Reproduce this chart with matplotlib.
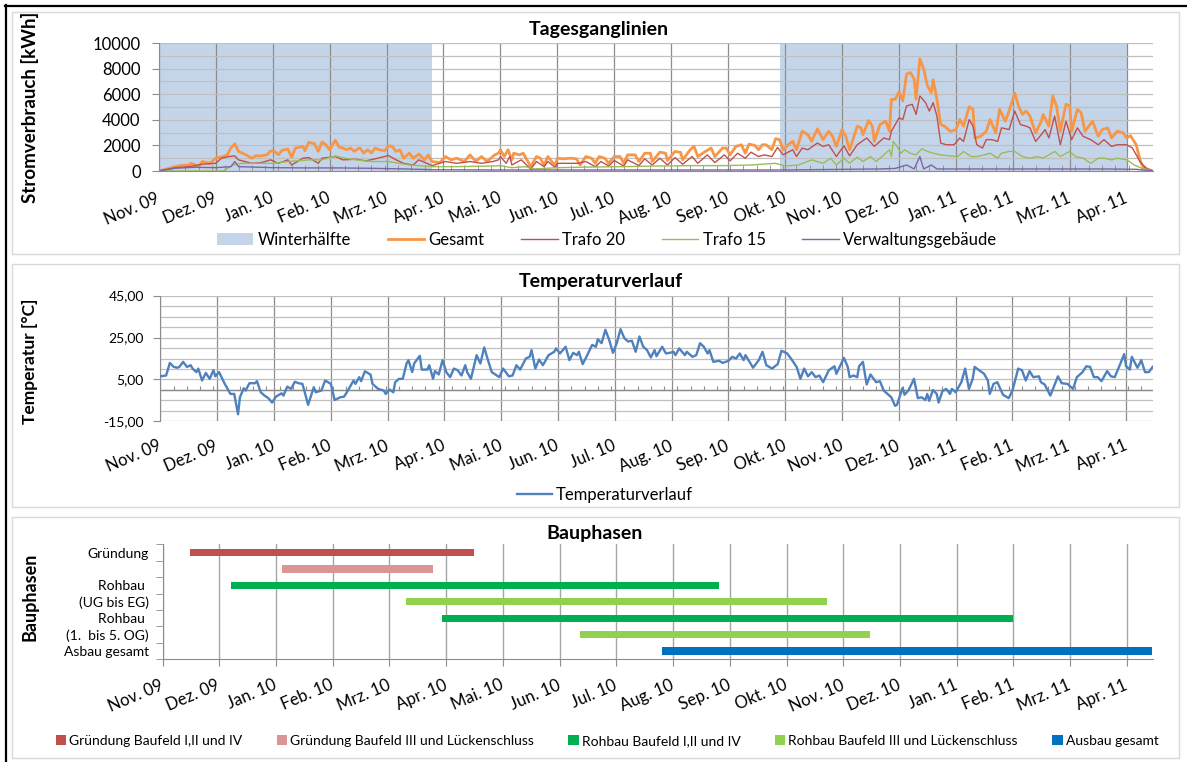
import matplotlib
matplotlib.use("Agg")
import matplotlib.pyplot as plt
from matplotlib.patches import Rectangle
from matplotlib.lines import Line2D
from matplotlib.ticker import MultipleLocator, FixedLocator
import numpy as np

plt.rcParams['font.family'] = ['Lato', 'DejaVu Sans']

W, H = 1187, 762

# x axis: day index, 0 = 1 Nov 2009, one label every 30 days
month_labels = ["Nov. 09", "Dez. 09", "Jan. 10", "Feb. 10", "Mrz. 10", "Apr. 10",
                "Mai. 10", "Jun. 10", "Jul. 10", "Aug. 10", "Sep. 10", "Okt. 10",
                "Nov. 10", "Dez. 10", "Jan. 11", "Feb. 11", "Mrz. 11", "Apr. 11"]
month_days = [0, 30, 60, 90, 120, 150, 180, 210, 240, 270, 300, 330,
              360, 390, 420, 450, 480, 510]
last_day = 524

# Tagesganglinien (kWh per day)
winter_start = [0, 327.5]
winter_end = [144, 510]

gesamt_day = [0, 11, 16, 17, 21, 23, 27, 29, 30, 34, 36, 38, 40, 42, 46, 49, 51, 54, 57, 59,
              61, 63, 65, 68, 70, 72, 76, 77, 79, 82, 84, 86, 88, 90, 93, 95, 97, 99, 101, 103,
              105, 106, 108, 110, 112, 114, 116, 119, 121, 123, 125, 127, 129, 132, 134, 137, 140, 142, 144, 148,
              151, 154, 157, 161, 164, 167, 170, 173, 177, 179, 180, 182, 184, 186, 187, 190, 192, 194, 196, 199,
              201, 203, 205, 207, 209, 210, 213, 217, 220, 222, 225, 228, 230, 232, 235, 237, 240, 243, 245, 247,
              251, 253, 256, 259, 260, 264, 267, 268, 272, 275, 276, 280, 282, 284, 288, 291, 293, 297, 299, 301,
              304, 307, 309, 311, 314, 316, 318, 320, 323, 325, 327, 329, 332, 334, 336, 339, 342, 344, 347, 350,
              353, 355, 357, 360, 362, 364, 368, 370, 371, 374, 376, 377, 380, 383, 385, 386, 388, 390, 392, 394,
              396, 398, 399, 401, 403, 405, 407, 408, 410, 412, 414, 417, 420, 422, 424, 427, 429, 430, 433, 436,
              438, 441, 443, 446, 448, 451, 453, 455, 457, 459, 462, 465, 466, 469, 471, 473, 475, 478, 480, 481,
              484, 486, 488, 492, 495, 497, 500, 502, 505, 508, 510, 512, 515, 517, 518, 521, 524]
gesamt_kwh = [0, 420, 470, 600, 370, 740, 600, 870, 1000, 1130, 1260, 1790, 2130, 1530, 1260, 1000, 1180, 1180, 1260, 1580,
              1530, 1260, 1630, 1710, 1080, 1790, 1920, 1580, 2240, 2130, 1530, 2260, 2050, 1660, 2400, 1870, 1790, 1660, 1790, 1530,
              1740, 1790, 1400, 1660, 1400, 1790, 1660, 1580, 1970, 1920, 1530, 1660, 1000, 1400, 1000, 1320, 870, 1260, 740, 660,
              1130, 870, 1000, 740, 1260, 740, 1130, 740, 1260, 1390, 1660, 1130, 1660, 870, 1390, 1260, 1390, 870, 340, 1130,
              1000, 470, 1130, 740, 470, 1000, 950, 1000, 950, 470, 1130, 1000, 600, 1130, 1000, 600, 1130, 1130, 600, 1260,
              1260, 740, 1390, 1390, 740, 1470, 1390, 820, 1530, 1450, 870, 1660, 1920, 1130, 1530, 1790, 1130, 1790, 1790, 1260,
              1920, 2050, 1390, 2100, 2000, 1660, 2050, 2050, 1660, 2530, 2450, 1660, 2100, 2320, 1660, 3100, 2840, 2320, 3290, 2450,
              3100, 2710, 1920, 3230, 2710, 1660, 3500, 3370, 2840, 3950, 3500, 2310, 3630, 3890, 3100, 5600, 5600, 6180, 5470, 7570,
              7700, 7180, 5600, 8760, 7970, 6650, 6130, 7130, 5600, 3630, 3500, 3100, 3230, 4020, 3500, 5020, 4810, 2580, 2710, 3100,
              4020, 2970, 4810, 3890, 4680, 6080, 5080, 4420, 4680, 4290, 2970, 3890, 4420, 3500, 5860, 5080, 3100, 5210, 5080, 3100,
              4810, 4550, 3100, 3890, 2710, 3230, 3370, 2580, 3100, 3000, 2580, 2760, 2050, 870, 470, 130, 0]

trafo20_day = [0, 9, 16, 23, 30, 33, 37, 40, 42, 49, 54, 59, 63, 68, 70, 76, 79, 84, 86, 93,
               97, 104, 109, 114, 121, 125, 129, 134, 137, 144, 151, 157, 164, 170, 176, 179, 180, 183, 185, 186,
               191, 196, 199, 203, 205, 209, 210, 221, 225, 230, 233, 237, 240, 245, 247, 253, 256, 260, 264, 268,
               272, 276, 281, 284, 289, 293, 298, 301, 305, 309, 312, 316, 319, 323, 326, 329, 334, 336, 339, 342,
               347, 350, 353, 357, 361, 364, 368, 373, 377, 382, 385, 386, 390, 392, 394, 397, 399, 401, 404, 406,
               408, 410, 412, 415, 419, 422, 424, 427, 429, 431, 434, 436, 439, 442, 444, 448, 451, 454, 457, 459,
               462, 465, 467, 469, 472, 475, 478, 481, 484, 487, 491, 495, 498, 502, 505, 510, 513, 517, 520, 524]
trafo20_kwh = [0, 260, 340, 530, 600, 1000, 1130, 1180, 870, 600, 660, 870, 600, 870, 470, 1000, 1050, 600, 1000, 1130,
               870, 920, 790, 950, 1210, 870, 600, 470, 870, 420, 740, 600, 740, 600, 740, 870, 1130, 600, 1130, 470,
               870, 160, 740, 340, 740, 260, 600, 600, 740, 340, 740, 390, 820, 390, 870, 420, 950, 470, 1000, 470,
               1050, 530, 1130, 600, 1260, 660, 1260, 790, 1390, 1000, 1470, 1130, 1260, 1130, 1840, 1260, 1660, 1130, 1790, 1660,
               2180, 1920, 2050, 1130, 1970, 1180, 2050, 2580, 1920, 2580, 2450, 3100, 4150, 4020, 5080, 5210, 4420, 5860, 5340, 4680,
               5340, 4290, 2180, 2050, 2050, 2580, 2310, 4020, 3500, 2050, 1790, 2450, 2450, 2310, 3370, 3240, 4680, 3630, 3500, 3370,
               2310, 2840, 3240, 2580, 4290, 2050, 3890, 2450, 3370, 2710, 2450, 2050, 2450, 1920, 2050, 2050, 1790, 740, 210, 0]

trafo15_day = [0, 34, 39, 44, 51, 60, 68, 79, 86, 93, 98, 104, 112, 121, 132, 144, 157, 176, 180, 186,
               193, 198, 210, 228, 245, 263, 281, 298, 312, 325, 330, 337, 344, 350, 354, 357, 361, 364, 368, 371,
               375, 378, 382, 385, 386, 387, 389, 391, 393, 396, 399, 402, 405, 408, 412, 417, 421, 424, 428, 431,
               435, 438, 442, 444, 448, 451, 455, 459, 463, 466, 472, 475, 480, 483, 487, 491, 495, 498, 502, 505,
               510, 514, 518, 524]
trafo15_kwh = [0, 0, 470, 600, 600, 600, 740, 870, 870, 1180, 1000, 870, 740, 740, 470, 340, 340, 390, 420, 260,
               340, 160, 260, 310, 340, 390, 420, 420, 470, 600, 390, 470, 870, 600, 1000, 470, 1000, 600, 1080, 740,
               1130, 740, 1260, 1660, 1130, 2310, 1920, 1390, 1660, 1390, 1260, 1740, 1530, 1390, 1260, 1180, 1130, 1530, 1130, 1130,
               1260, 1390, 1000, 1390, 1530, 1530, 1130, 1000, 1130, 1000, 1530, 1130, 1530, 1130, 1000, 600, 1000, 1000, 870, 1000,
               870, 470, 210, 0]

verw_day = [0, 8, 19, 30, 38, 40, 42, 60, 77, 95, 112, 130, 144, 176, 250, 330, 360, 380, 388, 394,
            398, 401, 403, 407, 410, 450, 500, 515, 524]
verw_kwh = [0, 210, 290, 260, 340, 740, 340, 260, 240, 240, 210, 160, 100, 80, 80, 80, 130, 160, 200, 470,
            160, 1130, 160, 470, 160, 160, 160, 130, 0]

# Temperaturverlauf (deg C)
temp_day = [0, 3, 5, 7, 9, 10, 12, 14, 16, 17, 19, 20, 22, 24, 26, 28, 29, 31, 34, 37,
            39, 41, 42, 44, 45, 47, 50, 51, 53, 55, 57, 59, 61, 64, 65, 67, 69, 71, 73, 75,
            76, 78, 81, 82, 85, 87, 90, 92, 95, 97, 99, 102, 103, 105, 106, 108, 111, 112, 115, 118,
            119, 121, 123, 124, 126, 128, 130, 131, 133, 134, 137, 138, 141, 142, 144, 145, 147, 149, 151, 153,
            155, 157, 159, 161, 162, 164, 167, 169, 171, 173, 175, 179, 181, 184, 186, 188, 190, 193, 195, 196,
            198, 200, 202, 205, 208, 209, 211, 214, 216, 218, 220, 221, 223, 225, 228, 230, 231, 233, 235, 237,
            239, 241, 243, 245, 247, 249, 251, 253, 255, 257, 259, 261, 262, 265, 267, 269, 271, 272, 274, 277,
            278, 281, 283, 285, 287, 289, 290, 292, 295, 297, 300, 302, 304, 306, 308, 309, 313, 316, 318, 320,
            323, 326, 328, 331, 333, 336, 338, 340, 342, 344, 346, 348, 350, 353, 356, 357, 361, 363, 364, 366,
            368, 369, 371, 373, 375, 378, 380, 382, 385, 386, 388, 389, 392, 393, 395, 398, 400, 402, 404, 405,
            406, 408, 410, 411, 413, 415, 417, 418, 420, 423, 425, 427, 429, 430, 433, 435, 437, 438, 440, 442,
            445, 448, 450, 453, 455, 457, 459, 461, 464, 465, 467, 470, 474, 476, 479, 482, 484, 487, 489, 491,
            493, 495, 497, 500, 502, 504, 507, 509, 510, 512, 513, 516, 517, 518, 520, 522, 524]
temp_c = [6.5, 6.9, 12.9, 11.0, 10.6, 11.0, 13.4, 11.0, 11.8, 10.2, 8.5, 10.2, 4.5, 8.1, 5.3, 9.4, 6.5, 8.5, 2.9, -1.9,
          -1.9, -11.6, -3.5, 0.8, -0.3, 3.2, 3.2, 4.2, -1.1, -2.7, -3.9, -6.0, -3.2, -1.6, -2.7, 1.6, 0.5, 3.9, 3.2, 2.9,
          -0.3, -7.1, 1.3, -1.1, -0.3, 4.5, 2.9, -4.8, -3.5, -3.2, -0.3, 4.5, 2.9, 6.1, 4.2, 8.9, 7.3, 2.9, 0.5, -0.3,
          -1.9, 0.2, -1.1, 3.7, 5.3, 5.3, 12.6, 14.2, 8.5, 12.6, 16.3, 9.7, 9.7, 11.8, 5.3, 9.0, 7.4, 14.2, 8.5, 6.1,
          10.2, 9.4, 6.9, 11.8, 8.5, 5.3, 16.6, 12.6, 20.3, 14.2, 8.5, 6.1, 10.2, 6.5, 6.9, 11.8, 9.7, 15.0, 15.8, 19.0,
          10.2, 14.5, 11.8, 16.6, 18.2, 19.8, 17.4, 20.6, 14.2, 17.7, 16.6, 18.2, 12.3, 15.8, 21.5, 20.6, 24.2, 22.3, 28.7, 23.9,
          17.7, 22.3, 29.0, 24.7, 23.1, 23.5, 18.2, 25.5, 20.6, 19.0, 15.5, 19.0, 16.1, 20.6, 17.4, 17.7, 18.2, 16.6, 19.8, 16.6,
          18.2, 15.8, 16.6, 22.3, 20.6, 17.4, 19.0, 13.4, 13.9, 12.9, 13.9, 15.8, 15.0, 17.4, 14.2, 16.6, 10.6, 14.2, 18.2, 11.8,
          10.2, 12.3, 18.7, 17.4, 15.0, 11.0, 5.3, 10.2, 6.5, 8.5, 6.1, 6.9, 3.7, 9.4, 11.3, 7.7, 15.3, 11.0, 6.1, 6.9,
          6.1, 11.3, 13.4, 2.6, 7.4, 3.7, 4.2, -0.3, -2.7, -3.5, -7.6, -7.1, 1.0, -2.3, -0.3, 5.3, -3.9, -3.5, -4.8, -1.9,
          -5.2, 0.0, -1.9, -6.0, -0.6, 0.5, -1.9, 0.5, -1.1, 3.7, 10.2, 0.5, 5.3, 11.0, 9.0, 7.7, 4.5, -1.9, 2.9, 3.7,
          -2.3, -3.9, -0.3, 10.2, 9.4, 4.5, 9.0, 6.1, 6.5, 3.7, 2.6, -2.7, 6.5, 3.2, 2.9, 0.5, 6.1, 8.5, 11.3, 11.0,
          6.1, 6.1, 4.2, 9.0, 6.5, 6.1, 12.6, 17.1, 11.3, 9.7, 15.8, 10.6, 12.3, 14.2, 8.5, 8.5, 11.0]

# Bauphasen (start / end day)
phase_rows = ["Gründung", "", "Rohbau ", "(UG bis EG)", "Rohbau ", "(1.  bis 5. OG)", "Asbau gesamt"]
phase_start = [14.5, 63.1, 36.3, 128.6, 147.9, 220.7, 264.3]
phase_end = [164.9, 143.0, 294.4, 351.3, 449.6, 374.2, 523.5]
phase_series = [0, 1, 2, 3, 2, 3, 4]
series_names = ["Gründung Baufeld I,II und IV", "Gründung Baufeld III und Lückenschluss",
                "Rohbau Baufeld I,II und IV", "Rohbau Baufeld III und Lückenschluss", "Ausbau gesamt"]
series_colors = ["#C0504D", "#D99694", "#00B050", "#92D050", "#0070C0"]

GRID_H = "#BFBFBF"
GRID_V = "#8C8C8C"


def rect(left, top, right, bottom):
    return [left / W, 1 - bottom / H, (right - left) / W, (bottom - top) / H]


def fy(y):
    return 1 - y / H


fig = plt.figure(figsize=(W / 100, H / 100), dpi=100)

# panel frames and screenshot border
for top, bottom in [(12, 254), (264, 507), (517, 758)]:
    fig.patches.append(Rectangle((12 / W, fy(bottom)), (1179 - 12) / W, (bottom - top) / H,
                                 transform=fig.transFigure, fill=False, edgecolor="#D9D9D9", lw=1))
fig.add_artist(Line2D([5 / W, 1], [fy(5.5), fy(5.5)], color="black", lw=1.6, transform=fig.transFigure))
fig.add_artist(Line2D([6 / W, 6 / W], [0, fy(5)], color="black", lw=1.6, transform=fig.transFigure))


def month_axis(ax, pad):
    ax.set_xlim(0, last_day)
    ax.set_xticks(month_days)
    ax.set_xticklabels(month_labels, rotation=23, ha="right", va="center", rotation_mode="anchor")
    ax.tick_params(axis="x", which="major", length=0, pad=pad, labelsize=12)
    for s in ["top", "right"]:
        ax.spines[s].set_visible(False)


# ---- Tagesganglinien ----
ax1 = fig.add_axes(rect(158.8, 43, 1153.3, 171))
for i in range(len(winter_start)):
    ax1.axvspan(winter_start[i], winter_end[i], color="#C4D5EA", lw=0,
                label="Winterhälfte" if i == 0 else None)
ax1.plot(gesamt_day, gesamt_kwh, color="#F79646", lw=2.0, label="Gesamt")
ax1.plot(trafo20_day, trafo20_kwh, color="#C0504D", lw=1.0, label="Trafo 20")
ax1.plot(trafo15_day, trafo15_kwh, color="#9BBB59", lw=1.0, label="Trafo 15")
ax1.plot(verw_day, verw_kwh, color="#8064A2", lw=1.0, label="Verwaltungsgebäude")
ax1.set_ylim(0, 10000)
ax1.set_yticks(range(0, 10001, 2000))
ax1.yaxis.set_minor_locator(MultipleLocator(1000))
ax1.xaxis.set_minor_locator(MultipleLocator(7))
month_axis(ax1, 19)
ax1.tick_params(axis="y", which="major", length=5, color=GRID_V, pad=8, labelsize=12)
ax1.tick_params(axis="y", which="minor", length=0)
ax1.tick_params(axis="x", which="minor", direction="in", length=4, color=GRID_V)
ax1.set_axisbelow("line")
ax1.grid(axis="y", which="both", color=GRID_H, lw=0.9)
ax1.grid(axis="x", which="major", color=GRID_V, lw=0.9)
ax1.spines["left"].set_color(GRID_V)
ax1.spines["bottom"].set_color(GRID_V)
fig.text(599 / W, fy(29), "Tagesganglinien", ha="center", va="center", fontsize=14, fontweight="bold")
fig.text(30 / W, fy(107), "Stromverbrauch [kWh]", rotation=90, ha="center", va="center",
         fontsize=13.5, fontweight="bold")
fig.legend(*ax1.get_legend_handles_labels(), loc="center", bbox_to_anchor=(607 / W, fy(240)),
           ncol=5, frameon=False, fontsize=12, handlelength=2.2, handleheight=0.7,
           handletextpad=0.25, columnspacing=2.2, borderpad=0)

# ---- Temperaturverlauf ----
ax2 = fig.add_axes(rect(160.4, 295.6, 1152.6, 421.4))
ax2.plot(temp_day, temp_c, color="#4F81BD", lw=1.7, label="Temperaturverlauf", zorder=3)
ax2.set_ylim(-15, 45)
ax2.set_yticks([-15, 5, 25, 45])
ax2.set_yticklabels(["-15,00", "5,00", "25,00", "45,00"])
ax2.yaxis.set_minor_locator(MultipleLocator(5))
month_axis(ax2, 17)
ax2.tick_params(axis="y", which="major", length=5, color=GRID_V, pad=7, labelsize=10)
ax2.tick_params(axis="y", which="minor", length=0)
ax2.grid(axis="y", which="both", color=GRID_H, lw=0.9)
ax2.grid(axis="x", which="major", color=GRID_V, lw=0.9)
ax2.spines["bottom"].set_visible(False)
ax2.spines["left"].set_color(GRID_V)
ax2.axhline(0, color=GRID_V, lw=1.0, zorder=2)
ax2.vlines(np.arange(7, last_day, 7), 0, 1.8, color=GRID_V, lw=0.8, zorder=2)
fig.text(601 / W, fy(281), "Temperaturverlauf", ha="center", va="center", fontsize=14, fontweight="bold")
fig.text(30 / W, fy(361), "Temperatur [°C]", rotation=90, ha="center", va="center",
         fontsize=12.5, fontweight="bold")
fig.legend(*ax2.get_legend_handles_labels(), loc="center", bbox_to_anchor=(605 / W, fy(495)),
           frameon=False, fontsize=12, handlelength=2.1, handletextpad=0.25, borderpad=0)

# ---- Bauphasen ----
ax3 = fig.add_axes(rect(162.6, 544.3, 1153.3, 659.3))
seen = set()
for i in range(len(phase_rows)):
    s = phase_series[i]
    ax3.barh(i, phase_end[i] - phase_start[i], left=phase_start[i], height=0.44,
             color=series_colors[s], label=series_names[s] if s not in seen else None, zorder=3)
    seen.add(s)
ax3.set_ylim(6.5, -0.5)
ax3.set_yticks(range(len(phase_rows)))
ax3.set_yticklabels(phase_rows)
ax3.yaxis.set_minor_locator(FixedLocator(np.arange(-0.5, 7, 1)))
month_axis(ax3, 13)
ax3.tick_params(axis="x", which="major", length=5, direction="out", color=GRID_V)
ax3.tick_params(axis="y", which="major", length=0, pad=10, labelsize=10)
ax3.tick_params(axis="y", which="minor", length=5, direction="out", color=GRID_V)
ax3.grid(axis="x", which="major", color="#A6A6A6", lw=1.0)
ax3.spines["left"].set_color(GRID_V)
ax3.spines["bottom"].set_color(GRID_V)
fig.text(595 / W, fy(534), "Bauphasen", ha="center", va="center", fontsize=14, fontweight="bold")
fig.text(30 / W, fy(597), "Bauphasen", rotation=90, ha="center", va="center",
         fontsize=13, fontweight="bold")
h3, l3 = ax3.get_legend_handles_labels()
fig.legend(h3, l3, loc="center", bbox_to_anchor=(607 / W, fy(741)), ncol=5, frameon=False,
           fontsize=10, handlelength=0.75, handleheight=0.75, handletextpad=0.2,
           columnspacing=2.5, borderpad=0)

fig.savefig("out.png", dpi=100)
